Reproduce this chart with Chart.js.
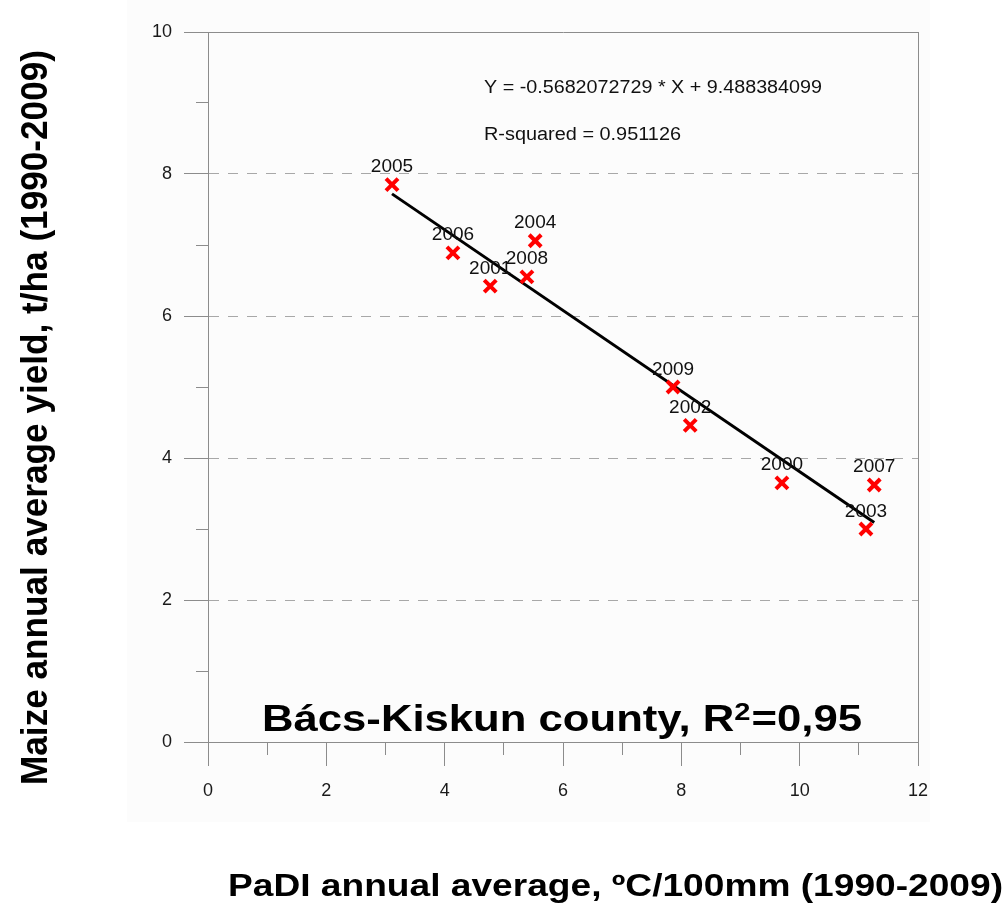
<!DOCTYPE html>
<html>
<head>
<meta charset="utf-8">
<title>Bács-Kiskun county, maize yield vs PaDI</title>
<script src="https://cdn.jsdelivr.net/npm/chart.js@4.4.1/dist/chart.umd.min.js"></script>
<style>
  html, body { margin: 0; padding: 0; background: #ffffff; }
  #chart { display: block; }
</style>
</head>
<body>
<canvas id="chart" width="1008" height="909"></canvas>
<script>
// years of the points, in the same order as the values below
const years = ['2005', '2006', '2001', '2008', '2004', '2009', '2002', '2000', '2007', '2003'];
// PaDI annual average (x) and maize yield t/ha (y)
const padiValues = [3.11, 4.14, 4.77, 5.39, 5.53, 7.86, 8.15, 9.70, 11.26, 11.12];
const yieldValues = [7.85, 6.89, 6.42, 6.55, 7.06, 5.00, 4.46, 3.65, 3.62, 3.00];

// fitted line, end points
const trendX = [3.11, 11.26];
const trendY = [7.72, 3.09];

// labelled ticks
const xTickLabels = [0, 2, 4, 6, 8, 10, 12];
const yTickLabels = [0, 2, 4, 6, 8, 10];

const equationText = 'Y = -0.5682072729 * X + 9.488384099';
const rSquaredText = 'R-squared = 0.951126';
const countyParts = ['Bács-Kiskun county, R', '2', '=0,95'];
const xTitle = 'PaDI annual average, ºC/100mm (1990-2009)';
const yTitle = 'Maize annual average yield, t/ha (1990-2009)';

const FONT = '"Liberation Sans", Arial, Helvetica, sans-serif';
const axisGrey = '#8c8c8c';
const gridGrey = '#a8a8a8';

// draw text and stretch it to a given width
function drawStretched(ctx, text, x, y, font, width) {
  ctx.save();
  ctx.font = font;
  const w = ctx.measureText(text).width;
  ctx.translate(x, y);
  ctx.scale(width ? width / w : 1, 1);
  ctx.textAlign = 'left';
  ctx.textBaseline = 'alphabetic';
  ctx.fillText(text, 0, 0);
  ctx.restore();
}

const textPlugin = {
  id: 'textPlugin',
  beforeDraw(chart) {
    const ctx = chart.ctx;
    ctx.save();
    ctx.fillStyle = '#fcfcfc';
    ctx.fillRect(127, 0, 803, 822);
    ctx.restore();
  },
  afterDatasetsDraw(chart) {
    const ctx = chart.ctx;
    const meta = chart.getDatasetMeta(0);

    // year labels above the crosses
    ctx.save();
    ctx.font = '19px ' + FONT;
    ctx.fillStyle = '#111111';
    ctx.textAlign = 'center';
    ctx.textBaseline = 'alphabetic';
    meta.data.forEach((pt, i) => {
      ctx.fillText(years[i], pt.x, pt.y - 12.5);
    });
    ctx.restore();

    ctx.fillStyle = '#111111';
    drawStretched(ctx, equationText, 484, 93, '18px ' + FONT, 338);
    drawStretched(ctx, rSquaredText, 484, 139.5, '18px ' + FONT, 197);

    // county caption with superscript 2
    ctx.save();
    ctx.fillStyle = '#000000';
    const big = 'bold 36px ' + FONT;
    const small = 'bold 24px ' + FONT;
    ctx.font = big;
    const w0 = ctx.measureText(countyParts[0]).width;
    const w2 = ctx.measureText(countyParts[2]).width;
    ctx.font = small;
    const w1 = ctx.measureText(countyParts[1]).width + 1;
    const total = w0 + w1 + w2;
    ctx.translate(262, 731);
    ctx.scale(600 / total, 1);
    ctx.textBaseline = 'alphabetic';
    ctx.font = big;
    ctx.fillText(countyParts[0], 0, 0);
    ctx.font = small;
    ctx.fillText(countyParts[1], w0, -11);
    ctx.font = big;
    ctx.fillText(countyParts[2], w0 + w1, 0);
    ctx.restore();
  },
  afterDraw(chart) {
    const ctx = chart.ctx;
    ctx.fillStyle = '#000000';
    drawStretched(ctx, xTitle, 228, 896, 'bold 31px ' + FONT, 775);

    ctx.save();
    ctx.translate(47, 785);
    ctx.rotate(-Math.PI / 2);
    ctx.font = 'bold 37px ' + FONT;
    const w = ctx.measureText(yTitle).width;
    ctx.scale(735 / w, 1);
    ctx.textAlign = 'left';
    ctx.textBaseline = 'alphabetic';
    ctx.fillText(yTitle, 0, 0);
    ctx.restore();
  }
};

const isOdd = (ctx) => ctx.tick && Math.round(ctx.tick.value) % 2 !== 0;

new Chart(document.getElementById('chart'), {
  type: 'scatter',
  data: {
    datasets: [
      {
        label: 'Yield',
        data: padiValues.map((x, i) => ({ x: x, y: yieldValues[i] })),
        pointStyle: 'crossRot',
        pointRadius: 8.5,
        pointHoverRadius: 8.5,
        pointBorderWidth: 4,
        borderColor: '#ff0000',
        backgroundColor: '#ff0000',
        showLine: false
      },
      {
        label: 'Trend',
        type: 'line',
        data: trendX.map((x, i) => ({ x: x, y: trendY[i] })),
        borderColor: '#000000',
        borderWidth: 3,
        pointRadius: 0,
        fill: false
      }
    ]
  },
  options: {
    responsive: false,
    animation: false,
    events: [],
    layout: { padding: { top: 32, right: 90, left: 0, bottom: 0 } },
    plugins: {
      legend: { display: false },
      tooltip: { enabled: false }
    },
    scales: {
      x: {
        type: 'linear',
        min: 0,
        max: 12,
        afterFit: (scale) => { scale.height = 167; },
        ticks: {
          stepSize: 1,
          autoSkip: false,
          maxRotation: 0,
          padding: 14,
          color: '#1a1a1a',
          font: { family: FONT, size: 18 },
          callback: (v) => xTickLabels.includes(v) ? String(v) : ''
        },
        grid: {
          color: (ctx) => (ctx.tick && (ctx.tick.value === 0 || ctx.tick.value === 12)) ? axisGrey : 'rgba(0,0,0,0)',
          tickColor: axisGrey,
          tickLength: 24,
          tickBorderDash: (ctx) => isOdd(ctx) ? [12, 12] : []
        },
        border: { display: true, color: axisGrey, width: 1 }
      },
      y: {
        type: 'linear',
        min: 0,
        max: 10,
        afterFit: (scale) => { scale.width = 208; },
        ticks: {
          stepSize: 1,
          autoSkip: false,
          padding: 12,
          color: '#1a1a1a',
          font: { family: FONT, size: 18 },
          callback: (v) => yTickLabels.includes(v) ? String(v) : ''
        },
        grid: {
          color: (ctx) => {
            if (!ctx.tick) return axisGrey;
            const v = ctx.tick.value;
            if (v === 0 || v === 10) return axisGrey;
            return v % 2 === 0 ? gridGrey : 'rgba(0,0,0,0)';
          },
          tickColor: axisGrey,
          tickLength: 24,
          tickBorderDash: (ctx) => isOdd(ctx) ? [12, 12] : [],
          tickBorderDashOffset: (ctx) => isOdd(ctx) ? 12 : 0
        },
        border: {
          display: true,
          color: axisGrey,
          width: 1,
          dash: (ctx) => {
            if (!ctx.tick) return [];
            const v = ctx.tick.value;
            return (v > 0 && v < 10 && v % 2 === 0) ? [10, 9] : [];
          }
        }
      }
    }
  },
  plugins: [textPlugin]
});
</script>
</body>
</html>
